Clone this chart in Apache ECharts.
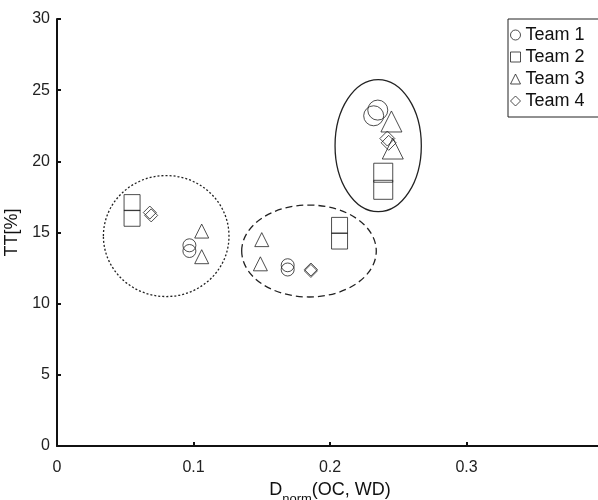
<!DOCTYPE html>
<html>
<head>
<meta charset="utf-8">
<script src="https://cdn.jsdelivr.net/npm/echarts@6/dist/echarts.min.js"></script>
<style>
  html, body { margin: 0; padding: 0; background: #fff; }
  #chart { width: 598px; height: 500px; }
</style>
</head>
<body>
<div id="chart"></div>
<script>
// team points [D_norm, TT%]
var team1 = [[0.097, 14.1], [0.097, 13.7], [0.169, 12.7], [0.169, 12.4], [0.235, 23.6], [0.232, 23.2]];
var team2 = [[0.055, 17.1], [0.055, 16.0], [0.207, 15.5], [0.207, 14.4], [0.239, 19.2], [0.239, 18.0]];
var team3 = [[0.106, 15.1], [0.106, 13.3], [0.150, 14.5], [0.149, 12.8], [0.245, 22.8], [0.246, 20.9]];
var team4 = [[0.068, 16.4], [0.069, 16.2], [0.186, 12.4], [0.186, 12.3], [0.242, 21.6], [0.243, 21.3]];

var teamNames = ['Team 1', 'Team 2', 'Team 3', 'Team 4'];

// cluster ellipses: center x, center y, radius x, radius y
var ellipses = [
    [0.080, 14.75, 0.046, 4.25],
    [0.1846, 13.7, 0.0493, 3.23],
    [0.2353, 21.1, 0.0316, 4.64]
];

var xTicks = [0, 0.1, 0.2, 0.3, 0.4];
var yTicks = [0, 5, 10, 15, 20, 25, 30];

var dom = document.getElementById("chart");
var myChart = echarts.init(dom);

var font = 'Liberation Sans, Arial, sans-serif';
var dashes = [[2, 2], [7, 4], null];

function markerSize(base, big) {
    return function (val) {
        return val[0] > 0.22 ? big : base;   // right cluster has bigger markers
    };
}

function teamSeries(name, data, symbol, base, big) {
    return {
        name: name,
        type: 'scatter',
        symbol: symbol,
        symbolSize: markerSize(base, big),
        data: data,
        itemStyle: {
            color: 'rgba(255,255,255,0)',
            borderColor: '#222',
            borderWidth: 1
        },
        z: 3
    };
}

var option = {
    animation: false,
    backgroundColor: '#fff',
    textStyle: { fontFamily: font },
    legend: {
        data: teamNames,
        orient: 'vertical',
        left: 508,
        top: 19,
        backgroundColor: '#fff',
        borderColor: '#222',
        borderWidth: 1,
        borderRadius: 0,
        padding: [7, 16, 7, 2],
        itemWidth: 10,
        itemHeight: 10,
        itemGap: 4,
        textStyle: { color: '#111', fontSize: 18, fontFamily: font },
        itemStyle: { borderWidth: 1 }
    },
    grid: {
        left: 57,
        right: -5,
        top: 19,
        bottom: 54,
        containLabel: false,
        outerBoundsMode: 'none'
    },
    xAxis: {
        type: 'value',
        min: xTicks[0],
        max: xTicks[xTicks.length - 1],
        interval: 0.1,
        name: '{d|D}{s|norm}{d|(OC, WD)}',
        nameLocation: 'middle',
        nameGap: 29,
        nameTextStyle: {
            rich: {
                d: { fontSize: 18, color: '#111', fontFamily: font },
                s: { fontSize: 13, color: '#111', fontFamily: font, verticalAlign: 'bottom', padding: [18, 0, 0, 0] }
            }
        },
        axisLine: { lineStyle: { color: '#111', width: 2 } },
        axisTick: { inside: true, length: 4, lineStyle: { color: '#111', width: 2 } },
        axisLabel: {
            color: '#222', fontSize: 16, margin: 14, showMaxLabel: false,
            formatter: function (v) { return v === 0 ? '0' : String(v); }
        },
        splitLine: { show: false }
    },
    yAxis: {
        type: 'value',
        min: yTicks[0],
        max: yTicks[yTicks.length - 1],
        interval: 5,
        name: 'TT[%]',
        nameLocation: 'middle',
        nameGap: 26,
        nameTextStyle: { fontSize: 18, color: '#111', fontFamily: font },
        axisLine: { lineStyle: { color: '#111', width: 2 } },
        axisTick: { inside: true, length: 4, lineStyle: { color: '#111', width: 2 } },
        axisLabel: { color: '#222', fontSize: 16, margin: 7, showMaxLabel: true },
        splitLine: { show: false }
    },
    series: [
        teamSeries('Team 1', team1, 'circle', 13, 20),
        teamSeries('Team 2', team2, 'rect', 16, 19),
        teamSeries('Team 3', team3, 'triangle', 14, 21),
        teamSeries('Team 4', team4, 'diamond', 13, 15),
        {
            type: 'custom',
            silent: true,
            data: ellipses,
            renderItem: function (params, api) {
                var c = api.coord([api.value(0), api.value(1)]);
                var s = api.size([api.value(2), api.value(3)]);
                return {
                    type: 'ellipse',
                    shape: { cx: c[0], cy: c[1], rx: s[0], ry: s[1] },
                    style: {
                        fill: 'none',
                        stroke: '#222',
                        lineWidth: 1.3,
                        lineDash: dashes[params.dataIndex]
                    }
                };
            },
            z: 2
        }
    ]
};

myChart.setOption(option);
</script>
</body>
</html>
